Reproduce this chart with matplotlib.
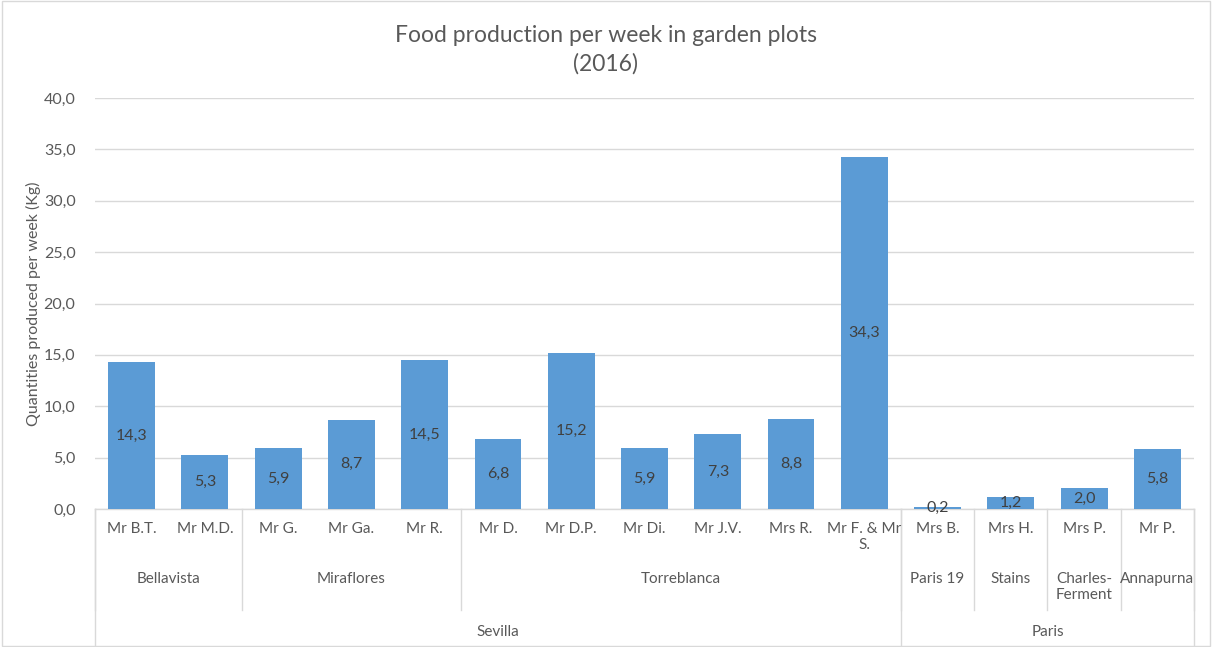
import matplotlib
matplotlib.use("Agg")
import matplotlib.pyplot as plt
from matplotlib.patches import Rectangle

plt.rcParams["font.family"] = ["Lato", "DejaVu Sans"]

# data
gardeners = ["Mr B.T.", "Mr M.D.", "Mr G.", "Mr Ga.", "Mr R.", "Mr D.", "Mr D.P.", "Mr Di.",
             "Mr J.V.", "Mrs R.", "Mr F. & Mr\nS.", "Mrs B.", "Mrs H.", "Mrs P.", "Mr P."]
quantities = [14.3, 5.3, 5.9, 8.7, 14.5, 6.8, 15.2, 5.9, 7.3, 8.8, 34.3, 0.2, 1.2, 2.0, 5.8]
gardens = ["Bellavista", "Miraflores", "Torreblanca", "Paris 19", "Stains", "Charles-\nFerment", "Annapurna"]
garden_sizes = [2, 3, 6, 1, 1, 1, 1]
cities = ["Sevilla", "Paris"]
city_sizes = [11, 4]

bar_color = "#5B9BD5"
grid_color = "#D9D9D9"
text_color = "#595959"

fig = plt.figure(figsize=(12.12, 6.47), dpi=100)
ax = fig.add_axes([95 / 1212, 1 - 509 / 647, 1099 / 1212, 411 / 647])

x = list(range(len(quantities)))
ax.bar(x, quantities, width=0.64, color=bar_color, zorder=3)
for xi, q in zip(x, quantities):
    ax.text(xi, q / 2, f"{q:.1f}".replace(".", ","), ha="center", va="center",
            fontsize=11.5, color="#404040", zorder=4)

ax.set_xlim(-0.5, len(quantities) - 0.5)
ax.set_ylim(0, 40)
ax.set_yticks(range(0, 41, 5))
ax.set_yticklabels([f"{v:.1f}".replace(".", ",") for v in range(0, 41, 5)])
ax.tick_params(axis="y", length=0, pad=14, labelsize=11.5, labelcolor=text_color)
ax.set_xticks([])
ax.grid(axis="y", color=grid_color, linewidth=1, zorder=0)
for s in ["top", "right", "left"]:
    ax.spines[s].set_visible(False)
ax.spines["bottom"].set_color(grid_color)
ax.spines["bottom"].set_linewidth(1)

ax.set_ylabel("Quantities produced per week (Kg)", fontsize=11.5, color=text_color, labelpad=2)

fig.suptitle("Food production per week in garden plots\n(2016)", y=0.962,
             fontsize=16.5, color=text_color, linespacing=1.45)

# multi-level category axis
tr = ax.get_xaxis_transform()
px = 1 / 411  # one pixel in axes fraction
for xi, name in zip(x, gardeners):
    ax.text(xi, -13 * px, name, transform=tr, ha="center", va="top",
            fontsize=11, color=text_color, linespacing=1.15)

start = -0.5
for g, n in zip(gardens, garden_sizes):
    ax.text(start + n / 2, -63 * px, g, transform=tr, ha="center", va="top",
            fontsize=11, color=text_color, linespacing=1.15)
    ax.plot([start, start], [0, -101 * px], transform=tr, color=grid_color,
            lw=1, clip_on=False)
    start += n
ax.plot([start, start], [0, -101 * px], transform=tr, color=grid_color, lw=1, clip_on=False)

start = -0.5
for c, n in zip(cities, city_sizes):
    ax.text(start + n / 2, -123 * px, c, transform=tr, ha="center", va="center",
            fontsize=11, color=text_color)
    ax.plot([start, start], [0, -137 * px], transform=tr, color=grid_color,
            lw=1, clip_on=False)
    start += n
ax.plot([start, start], [0, -137 * px], transform=tr, color=grid_color, lw=1, clip_on=False)

# chart area border
fig.patches.append(Rectangle((0.002, 0.002), 0.996, 0.996, transform=fig.transFigure,
                             fill=False, edgecolor=grid_color, lw=1))

fig.savefig("out.png", dpi=100)
